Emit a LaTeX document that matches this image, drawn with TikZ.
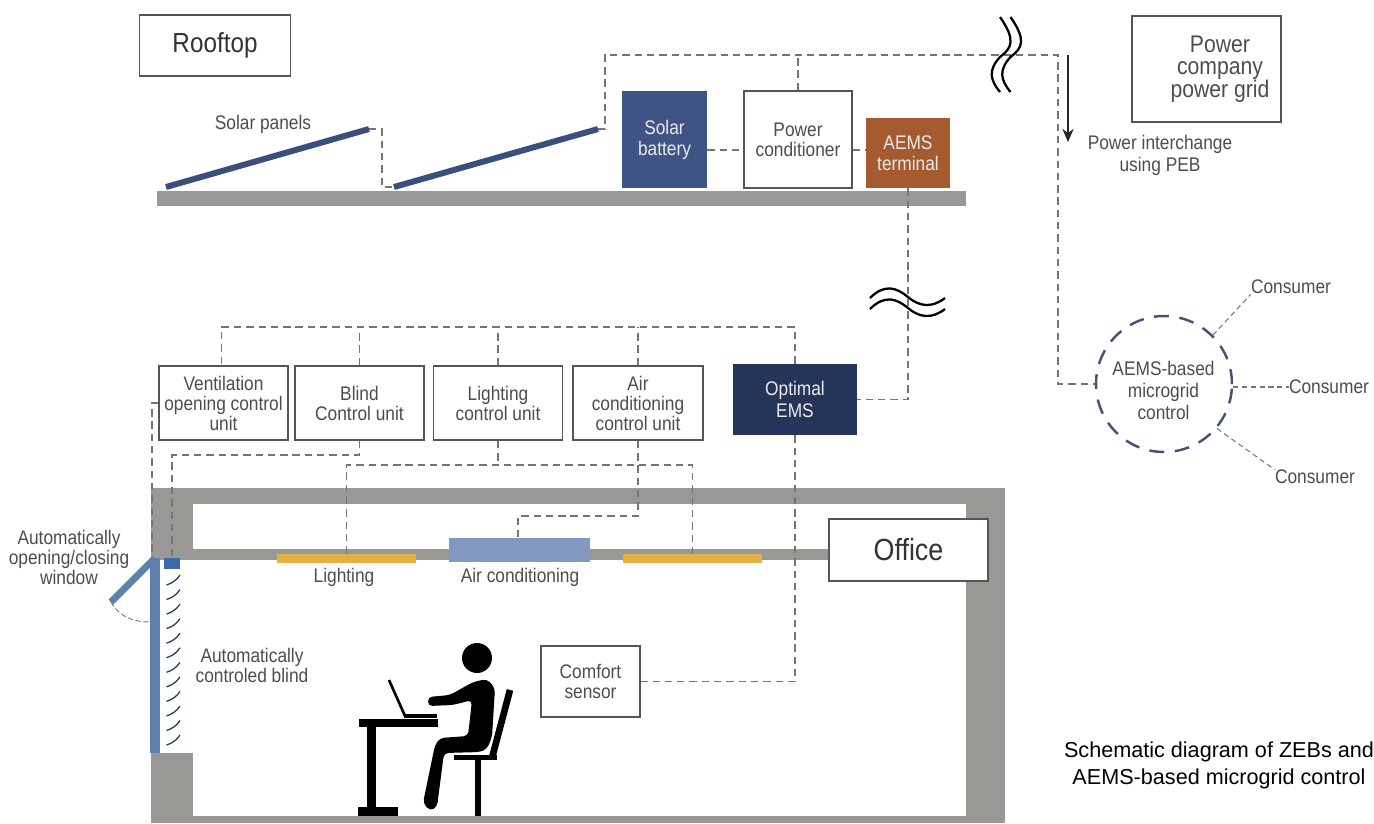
\documentclass[tikz,border=0pt]{standalone}
\usepackage{fontspec}
\setmainfont{Liberation Sans}[FakeStretch=0.88]
\newfontfamily\capfont{Liberation Sans}
\usetikzlibrary{arrows.meta}

\definecolor{wallgray}{HTML}{9A9895}
\definecolor{panelblue}{HTML}{3A4F7E}
\definecolor{battblue}{HTML}{3F5484}
\definecolor{termbrown}{HTML}{A55A2F}
\definecolor{emsnavy}{HTML}{25355A}
\definecolor{acblue}{HTML}{8298C1}
\definecolor{lampyellow}{HTML}{E3B044}
\definecolor{winblue}{HTML}{5D80AD}
\definecolor{headblue}{HTML}{3A68A8}
\definecolor{txtgray}{HTML}{4D4D4D}
\definecolor{linegray}{HTML}{555555}
\definecolor{wiregray}{HTML}{757575}

\begin{document}
\begin{tikzpicture}[x=0.02cm,y=-0.02cm,
		lbl/.style={inner sep=0pt,align=center,text=txtgray,font=\fontsize{11.2pt}{11.4pt}\selectfont},
		box/.style={lbl,draw=linegray,line width=1pt,fill=white},
		solid box/.style={lbl,text=white!92!black},
		part/.style={inner sep=0pt,minimum width=#1},
		wire/.style={draw=wiregray,line width=0.75pt,dash pattern=on 4.2pt off 2.8pt},
		fine wire/.style={wire,line width=0.6pt,dash pattern=on 3pt off 2pt},
		wave/.style={line width=1.3pt,black}]
	\useasboundingbox (0,0) rectangle (1374,823);

	% walls and roof
	\fill[wallgray] (157,191) rectangle (966,206);
	\fill[wallgray] (151,488) rectangle (1005,823);
	\fill[white] (193,504) rectangle (966,816);
	\fill[white] (151,560) rectangle (193,753);
	\fill[wallgray] (193,549) rectangle (830,560);

	% solar panels
	\coordinate (panelAbot) at (166,187);
	\coordinate (panelAtop) at (369,129);
	\coordinate (panelBbot) at (394,187);
	\coordinate (panelBtop) at (598,129);
	\draw[panelblue,line width=3.4pt] (panelAbot)--(panelAtop);
	\draw[panelblue,line width=3.4pt] (panelBbot)--(panelBtop);

	% boxes
	\node (rooftop) at (215,45.5) [box,minimum width=3.02cm,minimum height=1.22cm,text=black!80,font=\fontsize{15.7pt}{16pt}\selectfont] {Rooftop};
	\node (grid) at (1206.5,69) [box,minimum width=2.98cm,minimum height=2.12cm] {};
	\node (gridlbl) at (1220,69) [lbl,font=\fontsize{13.7pt}{12.8pt}\selectfont] {Power\\company\\power grid};
	\node (battery) at (664.5,139.5) [solid box,fill=battblue,minimum width=1.7cm,minimum height=1.94cm,font=\fontsize{11.2pt}{12pt}\selectfont] {Solar\\battery};
	\node (conditioner) at (798,139.5) [box,minimum width=2.16cm,minimum height=1.94cm] {Power\\conditioner};
	\node (terminal) at (908,153) [solid box,fill=termbrown,minimum width=1.68cm,minimum height=1.4cm,font=\fontsize{11.2pt}{12pt}\selectfont] {AEMS\\terminal};

	\node (ventctl) at (223.5,403) [box,minimum width=2.58cm,minimum height=1.48cm] {Ventilation\\opening control\\unit};
	\node (blindctl) at (359.5,403) [box,minimum width=2.58cm,minimum height=1.48cm] {Blind\\Control unit};
	\node (lightctl) at (498,403) [box,minimum width=2.58cm,minimum height=1.48cm] {Lighting\\control unit};
	\node (airctl) at (638,403) [box,minimum width=2.6cm,minimum height=1.48cm] {Air\\conditioning\\control unit};
	\node (ems) at (795,399.5) [solid box,fill=emsnavy,minimum width=2.48cm,minimum height=1.42cm,font=\fontsize{11.2pt}{12.6pt}\selectfont] {Optimal\\EMS};

	\node (office) at (908.5,550) [box,minimum width=3.18cm,minimum height=1.24cm,text=black!80,font=\fontsize{17.4pt}{18pt}\selectfont] {Office};
	\node (comfort) at (590.5,681.5) [box,minimum width=1.98cm,minimum height=1.42cm] {Comfort\\sensor};

	\node (lampA) at (346.5,558.5) [part=2.78cm,minimum height=0.18cm,fill=lampyellow] {};
	\node (lampB) at (692.5,558.5) [part=2.78cm,minimum height=0.18cm,fill=lampyellow] {};
	\node (aircon) at (519.5,550) [part=2.82cm,minimum height=0.48cm,fill=acblue] {};
	\node (blindhead) at (172,563.5) [part=0.32cm,minimum height=0.22cm,fill=headblue] {};

	% microgrid
	\node (micro) at (1164,384) [circle,draw=emsnavy!85!white,line width=1.4pt,dash pattern=on 8.5pt off 6pt,minimum size=2.72cm,inner sep=0pt] {};
	\node (microlbl) at (1163.5,390.5) [lbl,font=\fontsize{11.2pt}{12.6pt}\selectfont] {AEMS-based\\microgrid\\control};
	\node (consA) at (1291,287) [lbl] {Consumer};
	\node (consB) at (1329,387) [lbl] {Consumer};
	\node (consC) at (1315,477) [lbl] {Consumer};

	% roof wiring
	\coordinate (jump) at (382,129);
	\coordinate (busL) at (605,55);
	\coordinate (busR) at (1058,55);
	\coordinate (pcrow) at (725,150);
	\draw[wire] (panelAtop)--(jump) |- (panelBbot);
	\draw[wire] (panelBtop) -| (busL)--(busR) |- (micro.west);
	\draw[wire] (conditioner.north)--(conditioner.north |- busL);
	\draw[wire] (battery.east |- pcrow)--(conditioner.west |- pcrow);
	\draw[wire] (conditioner.east |- pcrow)--(terminal.west |- pcrow);
	\draw[wire] (terminal.south) |- (ems.east);

	% control wiring
	\coordinate (ctrlbus) at (221.7,327);
	\coordinate (blindjog) at (172,455);
	\coordinate (lightbus) at (499,465);
	\coordinate (acjog) at (518,516);
	\coordinate (winhead) at (152,557);
	\draw[wire] (ems.north) |- (ctrlbus)--(ctrlbus |- ventctl.north);
	\draw[wire] (blindctl.north)--(blindctl.north |- ctrlbus);
	\draw[wire] (lightctl.north)--(lightctl.north |- ctrlbus);
	\draw[wire] (airctl.north)--(airctl.north |- ctrlbus);
	\draw[wire] (ventctl.west) -| (winhead);
	\draw[wire] (blindctl.south) |- (blindjog)--(blindhead.north);
	\draw[wire] (lampA.north) |- (lightbus) -| (lampB.north);
	\draw[wire] (lightctl.south)--(lightctl.south |- lightbus);
	\draw[wire] (airctl.south) |- (acjog)--(acjog |- aircon.north);
	\draw[wire] (ems.south) |- (comfort.east);

	\draw[fine wire] (micro.45)--(consA.south west);
	\draw[fine wire] (micro.east |- consB.west)--(consB.west);
	\draw[fine wire] (micro.-40)--(consC.north west);

	% break marks
	\draw[wave] (1000,17) .. controls (1016,40) and (1012,48) .. (1000,57) .. controls (988,70) and (990,80) .. (1000,92);
	\draw[wave] (1010.5,17) .. controls (1026.5,40) and (1022.5,48) .. (1010.5,57) .. controls (998.5,70) and (1000.5,80) .. (1010.5,92);
	\draw[wave] (870,298) .. controls (885,283) and (897,288) .. (908,297) .. controls (920,307) and (932,308) .. (945,298);
	\draw[wave] (870,309) .. controls (885,294) and (897,299) .. (908,308) .. controls (920,318) and (932,319) .. (945,309);

	% power interchange
	\coordinate (arrowtop) at (1068,55);
	\coordinate (arrowend) at (1068,142);
	\draw[-{Stealth[length=7.5pt,width=6.5pt]},line width=0.8pt,black!85] (arrowtop)--(arrowend);
	\node (peb) at (1160,155.5) [lbl,font=\fontsize{11.2pt}{12.8pt}\selectfont] {Power interchange\\using PEB};

	% window and blind
	\coordinate (winhinge) at (155,558);
	\coordinate (wintip) at (111,602);
	\coordinate (winarc) at (150,622);
	\draw[winblue,line width=5.4pt] (155,558)--(155,753);
	\draw[winblue,line width=4pt] (winhinge)--(wintip);
	\draw[wire,line width=0.5pt,dash pattern=on 3pt off 1.5pt] (wintip) .. controls (120,618) and (135,622) .. (winarc);
	\foreach \slat in {0,...,11}
		\draw[emsnavy,line width=0.7pt] (166.5,585+14.55*\slat) .. controls (172,583+14.55*\slat) and (176,581+14.55*\slat) .. (180,575+14.55*\slat);

	% person at desk
	\fill[black] (359,719) rectangle (438,727);
	\fill[black] (367,727) rectangle (376,808);
	\fill[black] (358,807) rectangle (398,816);
	\draw[black,line width=1.5pt] (389,680)--(405,716);
	\fill[black] (404,714) rectangle (437,717.5);
	\fill[black] (477,658) circle (15);
	\fill[black,rounded corners=2.5pt] (428,697)--(450,695)--(473,682)--(487,679)--(495,688)--(492,737)--(487,749)--(480,752)--(444,753)--(437,807)--(430,811)--(423,803)--(435,745)--(440,738)--(468,736)--(472,700)--(453,705)--(428,706)--cycle;
	\draw[black,line width=3.8pt] (510,690)--(492,758);
	\fill[black] (454,755) rectangle (497,760);
	\fill[black] (475,760) rectangle (481,816);

	% labels
	\node (solarlbl) at (263,124) [lbl] {Solar panels};
	\node (lamplbl) at (344,577) [lbl] {Lighting};
	\node (aclbl) at (520,577) [lbl] {Air conditioning};
	\node (winlbl) at (69,557) [lbl] {Automatically\\opening/closing\\window};
	\node (blindlbl) at (252,665) [lbl] {Automatically\\controled blind};
	\node (caption) at (1219,765) [inner sep=0pt,align=center,font=\capfont\fontsize{12.3pt}{15.4pt}\selectfont] {Schematic diagram of ZEBs and\\AEMS-based microgrid control};
\end{tikzpicture}
\end{document}
